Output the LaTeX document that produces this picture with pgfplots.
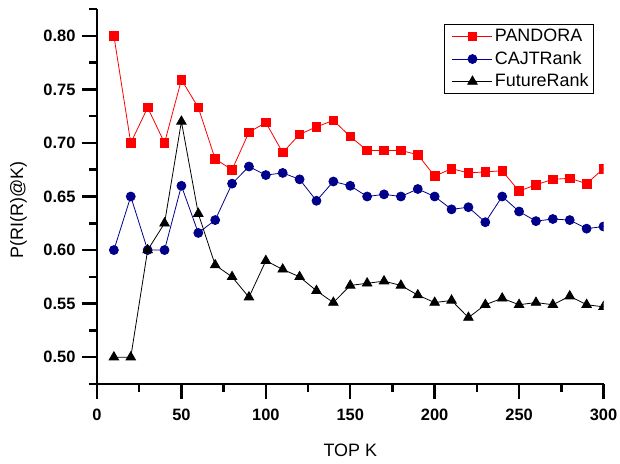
\documentclass[border=0pt]{standalone}
\usepackage{fontspec}
\setmainfont{Liberation Sans}
\usepackage{pgfplots}
\pgfplotsset{compat=1.18}
\definecolor{pandora}{RGB}{255,0,0}
\definecolor{cajt}{RGB}{0,0,139}
\newcommand{\legfont}{\fontsize{18}{21}\selectfont}

\begin{document}
\begin{tikzpicture}
\path[use as bounding box] (-97bp,-80bp) rectangle (523bp,384bp);
\begin{axis}[
  scale only axis, width=506.5bp, height=375bp,
  xmin=0, xmax=300, ymin=0.475, ymax=0.825,
  axis x line*=bottom, axis y line*=left,
  axis line style={line width=2.5pt},
  tick align=outside,
  xtick={0,50,...,300},
  minor xtick={25,75,125,175,225,275},
  ytick={0.50,0.55,0.60,0.65,0.70,0.75,0.80},
  minor ytick={0.475,0.525,0.575,0.625,0.675,0.725,0.775,0.825},
  major tick length=15bp, minor tick length=8bp,
  every tick/.style={line width=2.5pt, black},
  /pgf/number format/assume math mode=true,
  ticklabel style={font=\fontsize{16.5}{19}\selectfont\bfseries},
  xticklabel style={yshift=-6bp},
  yticklabel style={xshift=-3bp, /pgf/number format/fixed,
    /pgf/number format/fixed zerofill, /pgf/number format/precision=2},
  xlabel={TOP K},
  ylabel={P(RI(R)@K)},
  label style={font=\fontsize{18}{21}\selectfont},
  xlabel style={at={(axis description cs:0.5,-0.176)}, anchor=center},
  ylabel style={at={(axis description cs:-0.155,0.465)}, anchor=center},
  clip marker paths=true,
  legend style={at={(rel axis cs:0.981,0.96)}, anchor=north east,
    draw=black, line width=0.6pt,
    inner sep=3bp, row sep=4bp,
    /tikz/every even column/.style={column sep=3bp},
    nodes={inner sep=2bp, text height=12.5bp, text depth=2bp}},
  legend cell align=left,
  legend image code/.code={
    \path (0bp,0bp);
    \draw[mark repeat=2,mark phase=2] plot coordinates {(5bp,0bp) (25bp,0bp) (45bp,0bp)};
  },
]
\addplot[pandora, line width=0.8pt, mark=square*, mark size=4.3pt, mark options={solid, fill=pandora, draw=pandora}] coordinates {
(10,0.800) (20,0.700) (30,0.733) (40,0.700) (50,0.759) (60,0.733)
(70,0.685) (80,0.675) (90,0.710) (100,0.719) (110,0.691) (120,0.708)
(130,0.715) (140,0.721) (150,0.706) (160,0.693) (170,0.693) (180,0.693)
(190,0.689) (200,0.669) (210,0.676) (220,0.672) (230,0.673) (240,0.674)
(250,0.655) (260,0.661) (270,0.666) (280,0.667) (290,0.662) (300,0.676)
};
\addlegendentry{\legfont PANDORA}
\addplot[cajt, line width=0.8pt, mark=*, mark size=4.5pt, mark options={solid, fill=cajt, draw=cajt}] coordinates {
(10,0.600) (20,0.650) (30,0.600) (40,0.600) (50,0.660) (60,0.616)
(70,0.628) (80,0.662) (90,0.678) (100,0.670) (110,0.672) (120,0.666)
(130,0.646) (140,0.664) (150,0.660) (160,0.650) (170,0.652) (180,0.650)
(190,0.657) (200,0.650) (210,0.638) (220,0.640) (230,0.626) (240,0.650)
(250,0.636) (260,0.627) (270,0.629) (280,0.628) (290,0.620) (300,0.622)
};
\addlegendentry{\legfont CAJTRank}
\addplot[black, line width=0.8pt, mark=triangle*, mark size=5.5pt, mark options={solid, fill=black, draw=black}] coordinates {
(10,0.500) (20,0.500) (30,0.600) (40,0.625) (50,0.720) (60,0.634)
(70,0.586) (80,0.575) (90,0.556) (100,0.590) (110,0.582) (120,0.575)
(130,0.562) (140,0.551) (150,0.567) (160,0.569) (170,0.571) (180,0.567)
(190,0.558) (200,0.551) (210,0.553) (220,0.537) (230,0.549) (240,0.555)
(250,0.549) (260,0.551) (270,0.549) (280,0.557) (290,0.549) (300,0.547)
};
\addlegendentry{\legfont FutureRank}
\end{axis}
\end{tikzpicture}
\end{document}
